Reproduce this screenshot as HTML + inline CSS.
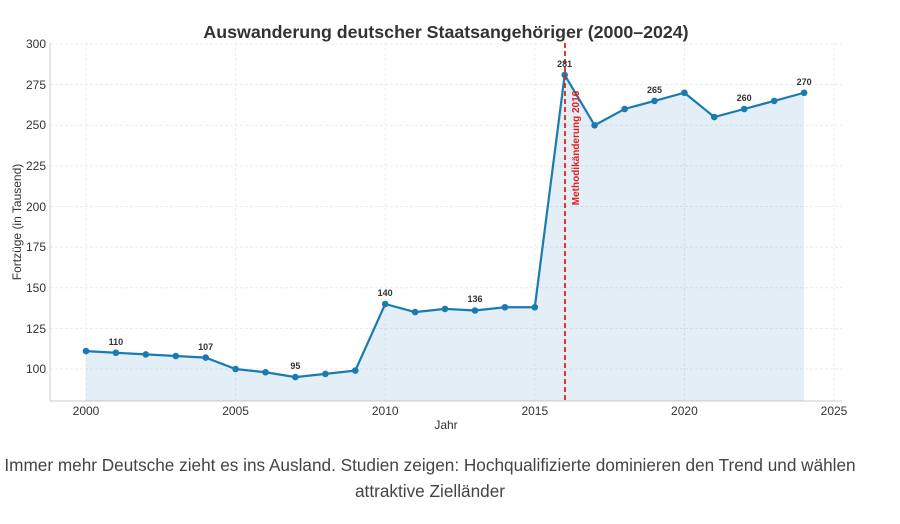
<!DOCTYPE html>
<html><head><meta charset="utf-8"><style>
body{margin:0;background:#fff;width:900px;height:519px;overflow:hidden;font-family:"Liberation Sans",sans-serif}
</style></head><body>
<svg width="900" height="519" xmlns="http://www.w3.org/2000/svg" font-family="Liberation Sans, sans-serif">
<text x="446" y="38" text-anchor="middle" font-size="17.8" font-weight="bold" fill="#333">Auswanderung deutscher Staatsangehöriger (2000–2024)</text>
<g stroke="#ececec" stroke-width="1" stroke-dasharray="3,2">
<line x1="50" x2="842" y1="44" y2="44"/><line x1="50" x2="842" y1="84.6" y2="84.6"/><line x1="50" x2="842" y1="125.25" y2="125.25"/><line x1="50" x2="842" y1="165.9" y2="165.9"/><line x1="50" x2="842" y1="206.5" y2="206.5"/><line x1="50" x2="842" y1="247.1" y2="247.1"/><line x1="50" x2="842" y1="287.75" y2="287.75"/><line x1="50" x2="842" y1="328.4" y2="328.4"/><line x1="50" x2="842" y1="369" y2="369"/>
<line x1="86" x2="86" y1="43" y2="401"/><line x1="235.6" x2="235.6" y1="43" y2="401"/><line x1="385.2" x2="385.2" y1="43" y2="401"/><line x1="534.8" x2="534.8" y1="43" y2="401"/><line x1="684.4" x2="684.4" y1="43" y2="401"/><line x1="834" x2="834" y1="43" y2="401"/>
</g>
<line x1="50" y1="43" x2="50" y2="401" stroke="#ccc"/><line x1="50" y1="401" x2="842" y2="401" stroke="#ccc"/>
<g font-size="12" fill="#333" text-anchor="end">
<text x="46" y="48">300</text><text x="46" y="89">275</text><text x="46" y="129">250</text><text x="46" y="170">225</text><text x="46" y="211">200</text><text x="46" y="251">175</text><text x="46" y="292">150</text><text x="46" y="333">125</text><text x="46" y="373">100</text>
</g>
<g font-size="12" fill="#333" text-anchor="middle">
<text x="86" y="415">2000</text><text x="235.6" y="415">2005</text><text x="385.2" y="415">2010</text><text x="534.8" y="415">2015</text><text x="684.4" y="415">2020</text><text x="834" y="415">2025</text>
<text x="446" y="429">Jahr</text>
</g>
<text transform="translate(21,222) rotate(-90)" font-size="12" fill="#333" text-anchor="middle">Fortzüge (in Tausend)</text>
<polygon fill="#1f77b4" fill-opacity="0.12" points="86,401 86,351.1 115.9,352.75 145.8,354.4 175.8,356 205.7,357.6 235.6,369 265.5,372.25 295.4,377.1 325.4,373.9 355.3,370.6 385.2,304 415.1,312.1 445,308.9 475,310.5 504.9,307.25 534.8,307.25 564.7,74.9 594.6,125.25 624.6,109 654.5,100.9 684.4,92.75 714.3,117.1 744.2,109 774.2,100.9 804.1,92.75 804.1,401"/>
<polyline fill="none" stroke="#1a7bb0" stroke-width="2.2" points="86,351.1 115.9,352.75 145.8,354.4 175.8,356 205.7,357.6 235.6,369 265.5,372.25 295.4,377.1 325.4,373.9 355.3,370.6 385.2,304 415.1,312.1 445,308.9 475,310.5 504.9,307.25 534.8,307.25 564.7,74.9 594.6,125.25 624.6,109 654.5,100.9 684.4,92.75 714.3,117.1 744.2,109 774.2,100.9 804.1,92.75"/>
<g fill="#1a7bb0">
<circle cx="86" cy="351.1" r="3.3"/><circle cx="115.9" cy="352.75" r="3.3"/><circle cx="145.8" cy="354.4" r="3.3"/><circle cx="175.8" cy="356" r="3.3"/><circle cx="205.7" cy="357.6" r="3.3"/><circle cx="235.6" cy="369" r="3.3"/><circle cx="265.5" cy="372.25" r="3.3"/><circle cx="295.4" cy="377.1" r="3.3"/><circle cx="325.4" cy="373.9" r="3.3"/><circle cx="355.3" cy="370.6" r="3.3"/><circle cx="385.2" cy="304" r="3.3"/><circle cx="415.1" cy="312.1" r="3.3"/><circle cx="445" cy="308.9" r="3.3"/><circle cx="475" cy="310.5" r="3.3"/><circle cx="504.9" cy="307.25" r="3.3"/><circle cx="534.8" cy="307.25" r="3.3"/><circle cx="564.7" cy="74.9" r="3.3"/><circle cx="594.6" cy="125.25" r="3.3"/><circle cx="624.6" cy="109" r="3.3"/><circle cx="654.5" cy="100.9" r="3.3"/><circle cx="684.4" cy="92.75" r="3.3"/><circle cx="714.3" cy="117.1" r="3.3"/><circle cx="744.2" cy="109" r="3.3"/><circle cx="774.2" cy="100.9" r="3.3"/><circle cx="804.1" cy="92.75" r="3.3"/>
</g>
<line x1="565" y1="43" x2="565" y2="401" stroke="#e02020" stroke-width="1.8" stroke-dasharray="5,3"/>
<text transform="translate(579,148) rotate(-90)" font-size="10" font-weight="bold" fill="#e02020" text-anchor="middle">Methodikänderung 2016</text>
<g font-size="9" font-weight="bold" fill="#333" text-anchor="middle">
<text x="115.9" y="345">110</text><text x="205.7" y="350">107</text><text x="295.4" y="369">95</text><text x="385.2" y="296">140</text><text x="475" y="302">136</text><text x="564.7" y="67">281</text><text x="654.5" y="93">265</text><text x="744.2" y="101">260</text><text x="804.1" y="85">270</text>
</g>
<text x="430" y="471" font-size="17.2" fill="#444" text-anchor="middle">Immer mehr Deutsche zieht es ins Ausland. Studien zeigen: Hochqualifizierte dominieren den Trend und wählen</text>
<text x="430" y="497" font-size="17.2" fill="#444" text-anchor="middle">attraktive Zielländer</text>
</svg>
</body></html>
